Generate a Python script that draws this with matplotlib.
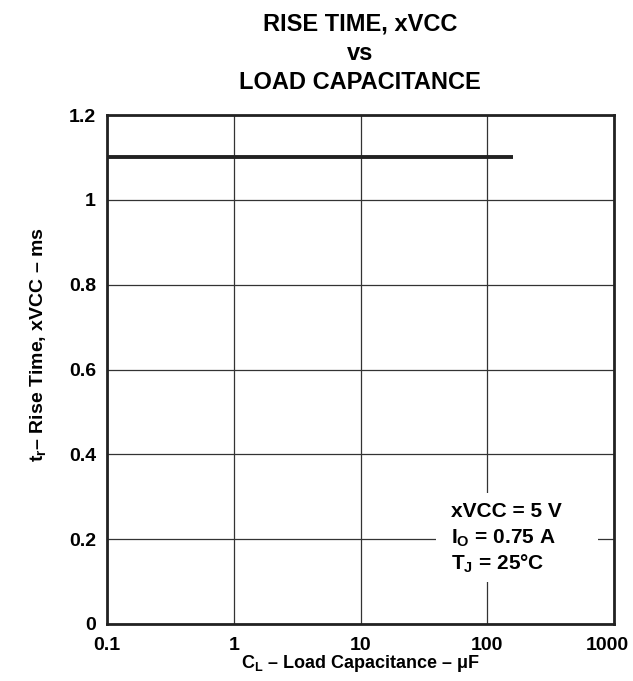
import matplotlib
matplotlib.use("Agg")
import matplotlib.pyplot as plt
import matplotlib.transforms as mtransforms
from matplotlib.patches import Rectangle
import numpy as np

plt.rcParams['font.family'] = ['Liberation Sans', 'DejaVu Sans']
plt.rcParams['font.weight'] = 'bold'
plt.rcParams['mathtext.fontset'] = 'custom'
plt.rcParams['mathtext.rm'] = 'Liberation Sans:bold'
plt.rcParams['mathtext.bf'] = 'Liberation Sans:bold'
plt.rcParams['mathtext.it'] = 'Liberation Sans:bold'
plt.rcParams['mathtext.sf'] = 'Liberation Sans:bold'
plt.rcParams['mathtext.default'] = 'rm'

# Data
cap_uF = [0.1, 160]
rise_ms = [1.1, 1.1]
x_ticks = [0.1, 1, 10, 100, 1000]
x_tick_labels = ['0.1', '1', '10', '100', '1000']
y_ticks = [0, 0.2, 0.4, 0.6, 0.8, 1.0, 1.2]
y_tick_labels = ['0', '0.2', '0.4', '0.6', '0.8', '1', '1.2']

fig = plt.figure(figsize=(6.33, 6.81), dpi=100)
W, H = 633, 681
left, right, top, bottom = 107, 614, 115, 624
ax = fig.add_axes([left / W, 1 - bottom / H, (right - left) / W, (bottom - top) / H])

ax.plot(cap_uF, rise_ms, color='#222222', linewidth=2.8, solid_capstyle='butt', zorder=3)
ax.set_xscale('log')
ax.set_xlim(0.1, 1000)
ax.set_ylim(0, 1.2)
ax.set_xticks(x_ticks)
ax.set_xticklabels(x_tick_labels)
ax.set_xticks([], minor=True)
ax.set_yticks(y_ticks)
ax.set_yticklabels(y_tick_labels)
ax.tick_params(length=0, labelsize=14, pad=8)
ax.tick_params(axis='x', pad=9)
ax.grid(True, color='#333333', linewidth=0.9)
for s in ax.spines.values():
    s.set_linewidth(2.0)
    s.set_color('#222222')

for lbl in ax.get_xticklabels() + ax.get_yticklabels():
    lbl.set_fontweight('bold')
last = ax.get_xticklabels()[-1]
last.set_transform(last.get_transform() + mtransforms.ScaledTranslation(-7 / 100, 0, fig.dpi_scale_trans))

fig.text(360 / W, 1 - 668 / H, r'C$_\mathregular{L}$ – Load Capacitance – $\mu$F',
         ha='center', va='baseline', fontsize=13, fontweight='bold')
fig.text(38 / W, 1 - 345 / H, r't$_\mathregular{r}$– Rise Time, xVCC – ms',
         ha='center', va='center', rotation=90, fontsize=14, fontweight='bold')

fig.text(360 / W, 1 - 31 / H, 'RISE TIME, xVCC', ha='center', va='baseline', fontsize=17, fontweight='bold')
fig.text(360 / W, 1 - 60 / H, 'vs', ha='center', va='baseline', fontsize=17, fontweight='bold')
fig.text(360 / W, 1 - 89 / H, 'LOAD CAPACITANCE', ha='center', va='baseline', fontsize=17, fontweight='bold')

# white box behind the conditions text
ax.add_patch(Rectangle((436 / W, 1 - 582 / H), (598 - 436) / W, (582 - 493) / H,
                       transform=fig.transFigure, facecolor='white', edgecolor='none', zorder=4))
cond_lines = ['xVCC = 5 V', 'I$_\\mathregular{O}$ = 0.75 A', 'T$_\\mathregular{J}$ = 25°C']
cond_baselines = [517, 544, 570]
for txt, yb in zip(cond_lines, cond_baselines):
    fig.text(451 / W, 1 - yb / H, txt, ha='left', va='baseline', fontsize=15, fontweight='bold', zorder=5)

fig.savefig('out.png', dpi=100)
